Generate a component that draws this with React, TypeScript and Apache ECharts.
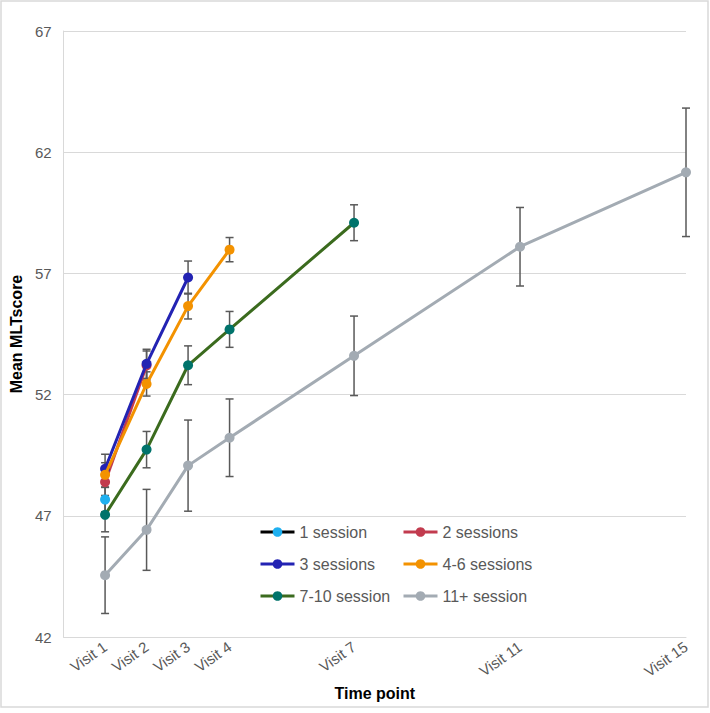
import React, { useEffect, useRef } from "react";
import * as echarts from "echarts";

// ---- Data ----
const xTickValues = [1, 2, 3, 4, 7, 11, 15];
const xTickLabels = ["Visit 1", "Visit 2", "Visit 3", "Visit 4", "Visit 7", "Visit 11", "Visit 15"];

const seriesNames = ["1 session", "2 sessions", "3 sessions", "4-6 sessions", "7-10 session", "11+ session"];

const s1Visits = [1];
const s1Mean = [47.67];
const s1Err = [0.5];

const s2Visits = [1, 2];
const s2Mean = [48.39, 53.2];
const s2Err = [0.55, 0.6];

const s3Visits = [1, 2, 3];
const s3Mean = [48.94, 53.27, 56.83];
const s3Err = [0.6, 0.6, 0.68];

const s4Visits = [1, 2, 3, 4];
const s4Mean = [48.69, 52.44, 55.65, 57.98];
const s4Err = [0.5, 0.5, 0.53, 0.5];

const s5Visits = [1, 2, 3, 4, 7];
const s5Mean = [47.04, 49.73, 53.21, 54.69, 59.09];
const s5Err = [0.7, 0.75, 0.8, 0.74, 0.74];

const s6Visits = [1, 2, 3, 4, 7, 11, 15];
const s6Mean = [44.55, 46.42, 49.07, 50.22, 53.6, 58.1, 61.17];
const s6Err = [1.58, 1.67, 1.88, 1.6, 1.64, 1.62, 2.65];

const lineColors = ["#000000", "#c23b4e", "#2323b3", "#f39200", "#3b6b1e", "#a3abb3"];
const markerColors = ["#1fb0f0", "#c23b4e", "#2323b3", "#f39200", "#00736b", "#a3abb3"];

const groups = [
  { visits: s1Visits, mean: s1Mean, err: s1Err },
  { visits: s2Visits, mean: s2Mean, err: s2Err },
  { visits: s3Visits, mean: s3Mean, err: s3Err },
  { visits: s4Visits, mean: s4Mean, err: s4Err },
  { visits: s5Visits, mean: s5Mean, err: s5Err },
  { visits: s6Visits, mean: s6Mean, err: s6Err },
];

const FONT = "'Liberation Sans', Arial, sans-serif";
const TEXT_GRAY = "#595959";

export default function App() {
  const ref = useRef<HTMLDivElement>(null);

  useEffect(() => {
    if (!ref.current) return;
    const chart = echarts.init(ref.current, undefined, { renderer: "svg" });

    const errSeries = groups.map((g, i) => ({
      type: "custom",
      name: seriesNames[i] + " err",
      z: 1,
      silent: true,
      data: g.visits.map((v, k) => [v, g.mean[k] - g.err[k], g.mean[k] + g.err[k]]),
      renderItem: (params: any, api: any) => {
        const x = api.value(0);
        const lo = api.coord([x, api.value(1)]);
        const hi = api.coord([x, api.value(2)]);
        const cap = 4;
        const style = { stroke: "#595959", lineWidth: 1.5 };
        return {
          type: "group",
          children: [
            { type: "line", shape: { x1: lo[0], y1: lo[1], x2: hi[0], y2: hi[1] }, style },
            { type: "line", shape: { x1: lo[0] - cap, y1: lo[1], x2: lo[0] + cap, y2: lo[1] }, style },
            { type: "line", shape: { x1: hi[0] - cap, y1: hi[1], x2: hi[0] + cap, y2: hi[1] }, style },
          ],
        };
      },
    }));

    const lineSeries = groups.map((g, i) => ({
      type: "line",
      name: seriesNames[i],
      z: 3 + i,
      data: g.visits.map((v, k) => [v, g.mean[k]]),
      symbol: "circle",
      symbolSize: 10,
      showAllSymbol: true,
      lineStyle: { color: lineColors[i], width: 3 },
      itemStyle: { color: markerColors[i], borderWidth: 0 },
      emphasis: { disabled: true },
    }));

    const legendCommon = {
      orient: "vertical",
      itemWidth: 34,
      itemHeight: 12,
      itemGap: 16,
      lineStyle: { width: 3 },
      textStyle: { color: TEXT_GRAY, fontSize: 16, fontFamily: FONT },
      top: 519,
    };

    chart.setOption({
      animation: false,
      backgroundColor: "#ffffff",
      textStyle: { fontFamily: FONT },
      grid: { left: 62, right: 24, top: 31, bottom: 76, containLabel: false },
      legend: [
        { ...legendCommon, left: 254, data: [seriesNames[0], seriesNames[2], seriesNames[4]] },
        { ...legendCommon, left: 397, data: [seriesNames[1], seriesNames[3], seriesNames[5]] },
      ],
      xAxis: {
        type: "value",
        min: 0,
        max: 15,
        name: "Time point",
        nameLocation: "middle",
        nameGap: 45,
        nameTextStyle: { color: "#000", fontSize: 16, fontWeight: "bold", fontFamily: FONT },
        axisLine: { show: true, lineStyle: { color: "#d9d9d9", width: 1 } },
        axisTick: { show: false },
        splitLine: { show: false },
        axisLabel: {
          customValues: xTickValues,
          rotate: 35,
          margin: 8,
          color: TEXT_GRAY,
          fontSize: 15,
          fontFamily: FONT,
          formatter: (v: number) => {
            const idx = xTickValues.indexOf(v);
            return idx >= 0 ? xTickLabels[idx] : "";
          },
        },
      },
      yAxis: {
        type: "value",
        min: 42,
        max: 67,
        interval: 5,
        name: "Mean MLTscore",
        nameLocation: "middle",
        nameGap: 37,
        nameTextStyle: { color: "#000", fontSize: 16, fontWeight: "bold", fontFamily: FONT },
        axisLine: { show: true, lineStyle: { color: "#d9d9d9", width: 1 } },
        axisTick: { show: false },
        axisLabel: { color: TEXT_GRAY, fontSize: 15, margin: 12, fontFamily: FONT },
        splitLine: { show: true, lineStyle: { color: "#d9d9d9", width: 1 } },
      },
      graphic: [
        {
          type: "rect",
          shape: { x: 1, y: 1, width: 707, height: 706 },
          style: { fill: "none", stroke: "#d9d9d9", lineWidth: 1.5 },
          silent: true,
        },
      ],
      series: [...errSeries, ...lineSeries],
    });

    return () => chart.dispose();
  }, []);

  return (
    <div
      ref={ref}
      style={{ position: "fixed", left: 0, top: 0, width: 710, height: 713 }}
    />
  );
}
